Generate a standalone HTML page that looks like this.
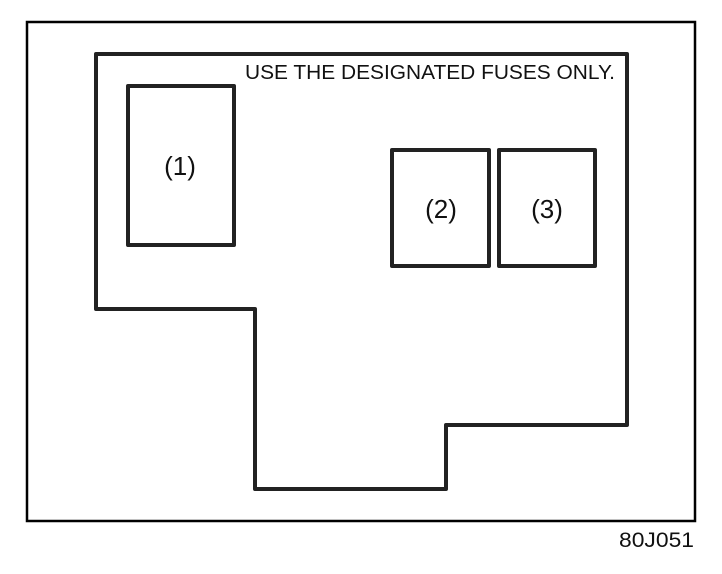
<!DOCTYPE html>
<html><head><meta charset="utf-8"><style>html,body{margin:0;padding:0;background:#fff}svg{display:block}</style></head>
<body>
<svg width="722" height="574" viewBox="0 0 722 574" xmlns="http://www.w3.org/2000/svg">
<rect x="27" y="22" width="668" height="499" fill="none" stroke="#000" stroke-width="2.5"/>
<path d="M96,54 H627 V425 H446 V489 H255 V309 H96 Z" fill="none" stroke="#222" stroke-width="4" stroke-linejoin="round"/>
<rect x="128" y="86" width="106" height="159" fill="none" stroke="#222" stroke-width="4" stroke-linejoin="round"/>
<rect x="392" y="150" width="97" height="116" fill="none" stroke="#222" stroke-width="4" stroke-linejoin="round"/>
<rect x="499" y="150" width="96" height="116" fill="none" stroke="#222" stroke-width="4" stroke-linejoin="round"/>
<g font-family="Liberation Sans, sans-serif" fill="#111">
<text x="245" y="79" font-size="20" textLength="370" lengthAdjust="spacingAndGlyphs">USE THE DESIGNATED FUSES ONLY.</text>
<text x="180" y="175" font-size="26" text-anchor="middle">(1)</text>
<text x="441" y="218" font-size="26" text-anchor="middle">(2)</text>
<text x="547" y="218" font-size="26" text-anchor="middle">(3)</text>
<text x="619" y="547" font-size="21" textLength="75" lengthAdjust="spacingAndGlyphs">80J051</text>
</g>
</svg>
</body></html>
